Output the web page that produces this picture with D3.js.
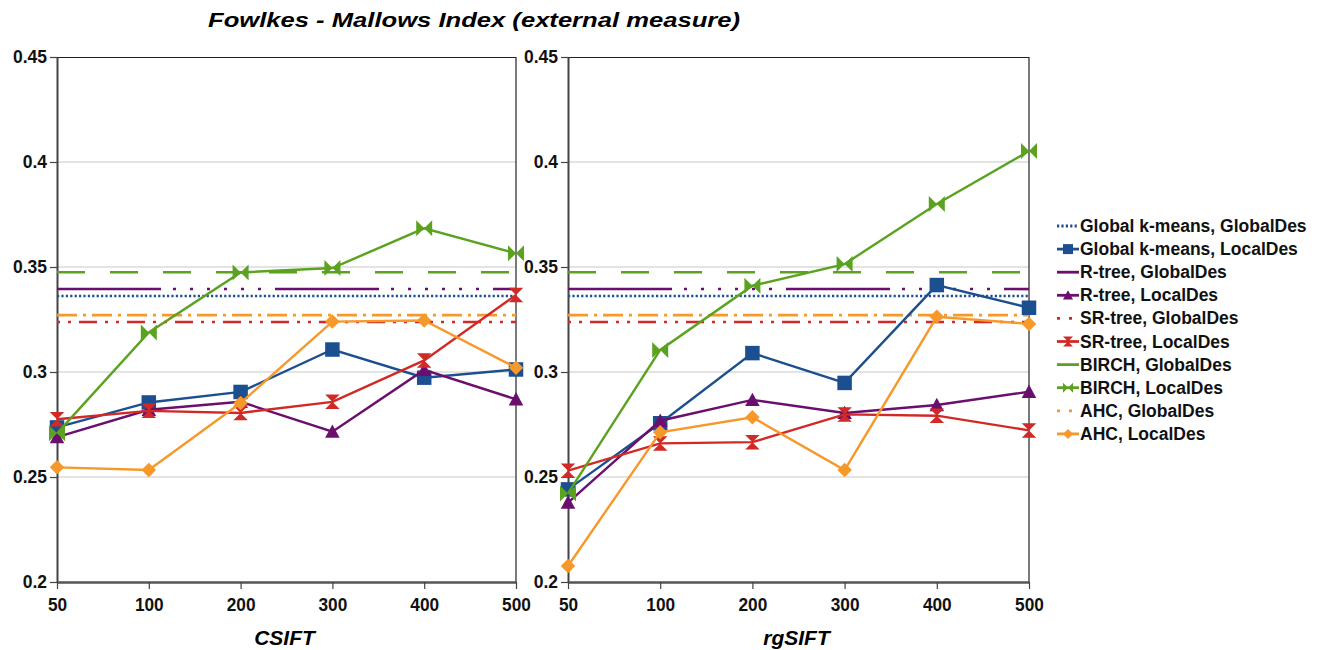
<!DOCTYPE html>
<html>
<head>
<meta charset="utf-8">
<script src="https://cdn.jsdelivr.net/npm/d3@7"></script>
<style>
  body { margin: 0; background: #fff; }
  svg { display: block; }
  .tick text { font-family: "Liberation Sans", Arial, sans-serif; font-weight: bold; }
</style>
</head>
<body>
<svg id="chart" width="1322" height="650"></svg>
<script>
// categories and values
const sizes = ['50', '100', '200', '300', '400', '500'];
const panels = ['CSIFT', 'rgSIFT'];
const yTicks = [0.2, 0.25, 0.3, 0.35, 0.4, 0.45];

// GlobalDes results are single values, drawn as horizontal reference lines
const globalKmeansGlobal = 0.3362;
const rtreeGlobal = 0.3395;
const srtreeGlobal = 0.3238;
const birchGlobal = 0.3475;
const ahcGlobal = 0.3271;

// LocalDes series, [CSIFT, rgSIFT]
const globalKmeansLocal = [
  [0.2736, 0.2855, 0.2905, 0.3107, 0.2973, 0.3012],
  [0.2441, 0.2756, 0.3090, 0.2948, 0.3414, 0.3306]
];
const rtreeLocal = [
  [0.2690, 0.2820, 0.2858, 0.2716, 0.3010, 0.2870],
  [0.2378, 0.2768, 0.2867, 0.2805, 0.2843, 0.2906]
];
const srtreeLocal = [
  [0.2775, 0.2815, 0.2805, 0.2858, 0.3055, 0.3367],
  [0.2530, 0.2660, 0.2666, 0.2798, 0.2792, 0.2722]
];
const birchLocal = [
  [0.2708, 0.3188, 0.3474, 0.3495, 0.3684, 0.3565],
  [0.2422, 0.3105, 0.3411, 0.3514, 0.3800, 0.4052]
];
const ahcLocal = [
  [0.2546, 0.2533, 0.2852, 0.3240, 0.3245, 0.3020],
  [0.2076, 0.2713, 0.2784, 0.2533, 0.3263, 0.3229]
];

const C = { blue: '#1c4f8f', purple: '#6b0f6f', red: '#d12a26', green: '#5aa21f', orange: '#f7982a' };

const refLines = [
  { name: 'BIRCH, GlobalDes', value: birchGlobal, color: C.green, dash: '28,25', legendDash: null },
  { name: 'R-tree, GlobalDes', value: rtreeGlobal, color: C.purple, dash: '104,12,3,14,3,14,3,14,3,14,3,14,3,14', legendDash: null },
  { name: 'Global k-means, GlobalDes', value: globalKmeansGlobal, color: C.blue, dash: '2.2,2.2', legendDash: '2.2,2.2' },
  { name: 'AHC, GlobalDes', value: ahcGlobal, color: C.orange, dash: '20,6,3,6', legendDash: '3,9' },
  { name: 'SR-tree, GlobalDes', value: srtreeGlobal, color: C.red, dash: '3,8,3,8,18,8', legendDash: '3,9' }
];

const localSeries = [
  { name: 'Global k-means, LocalDes', values: globalKmeansLocal, color: C.blue, marker: 'square' },
  { name: 'R-tree, LocalDes', values: rtreeLocal, color: C.purple, marker: 'triangle' },
  { name: 'SR-tree, LocalDes', values: srtreeLocal, color: C.red, marker: 'hourglass' },
  { name: 'BIRCH, LocalDes', values: birchLocal, color: C.green, marker: 'bowtie' },
  { name: 'AHC, LocalDes', values: ahcLocal, color: C.orange, marker: 'diamond' }
];

const legendOrder = [
  'Global k-means, GlobalDes', 'Global k-means, LocalDes', 'R-tree, GlobalDes', 'R-tree, LocalDes',
  'SR-tree, GlobalDes', 'SR-tree, LocalDes', 'BIRCH, GlobalDes', 'BIRCH, LocalDes',
  'AHC, GlobalDes', 'AHC, LocalDes'
];

function markerPath(type, s) {
  const h = s / 2;
  switch (type) {
    case 'square': return `M${-h},${-h}H${h}V${h}H${-h}Z`;
    case 'triangle': return `M0,${-h}L${h},${h * 0.85}L${-h},${h * 0.85}Z`;
    case 'diamond': return `M0,${-h}L${h},0L0,${h}L${-h},0Z`;
    case 'hourglass': return `M${-h},${-h}H${h}L0,0ZM${-h},${h}H${h}L0,0Z`;
    case 'bowtie': return `M${-h},${-h}V${h}L0,0ZM${h},${-h}V${h}L0,0Z`;
  }
}

const svg = d3.select('#chart');
const font = '"Liberation Sans", Arial, sans-serif';

const y = d3.scaleLinear().domain([0.2, 0.45]).range([582, 57]);
const panelX = [[57, 516], [568, 1029]];

svg.append('text')
  .attr('x', 474).attr('y', 27)
  .attr('text-anchor', 'middle')
  .attr('font-family', font).attr('font-weight', 'bold').attr('font-style', 'italic')
  .attr('font-size', 21)
  .attr('textLength', 532).attr('lengthAdjust', 'spacingAndGlyphs')
  .text('Fowlkes - Mallows Index (external measure)');

panels.forEach((title, p) => {
  const [x0, x1] = panelX[p];
  const x = d3.scalePoint().domain(sizes).range([x0, x1]);
  const g = svg.append('g');

  // gridlines
  g.append('g').selectAll('line').data([0.25, 0.3, 0.35, 0.4]).join('line')
    .attr('x1', x0).attr('x2', x1)
    .attr('y1', d => y(d)).attr('y2', d => y(d))
    .attr('stroke', '#c8c8c8').attr('stroke-width', 1.2);

  // frame: top and right
  g.append('line').attr('x1', x0).attr('x2', x1).attr('y1', 57.5).attr('y2', 57.5)
    .attr('stroke', '#222').attr('stroke-width', 1.2);
  g.append('line').attr('x1', x1).attr('x2', x1).attr('y1', 57).attr('y2', 582)
    .attr('stroke', '#222').attr('stroke-width', 1.2);

  // y axis
  const ya = g.append('g').attr('transform', `translate(${x0},0)`)
    .call(d3.axisLeft(y).tickValues(yTicks).tickFormat(d => String(+d.toFixed(2))).tickSize(7).tickSizeOuter(0));
  ya.select('.domain').attr('stroke', '#444').attr('stroke-width', 2);
  ya.selectAll('.tick line').attr('stroke', '#444').attr('stroke-width', 1.2);
  ya.selectAll('.tick text').attr('font-size', 17.5).attr('fill', '#111').attr('x', -10);

  // x axis
  const xa = g.append('g').attr('transform', 'translate(0,582)')
    .call(d3.axisBottom(x).tickSize(7).tickSizeOuter(0));
  xa.select('.domain').attr('stroke', '#555').attr('stroke-width', 2.4);
  xa.selectAll('.tick line').attr('stroke', '#444').attr('stroke-width', 1.2);
  xa.selectAll('.tick text').attr('font-size', 18).attr('fill', '#111').attr('dy', '1.05em')
    .attr('textLength', d => d.length * 9.6).attr('lengthAdjust', 'spacingAndGlyphs');

  // axis title
  g.append('text')
    .attr('x', (x0 + x1) / 2 - 2).attr('y', 645).attr('text-anchor', 'middle')
    .attr('font-family', font).attr('font-weight', 'bold').attr('font-style', 'italic')
    .attr('font-size', 21)
    .text(title);

  // GlobalDes reference lines
  g.append('g').selectAll('line').data(refLines).join('line')
    .attr('x1', x0).attr('x2', x1)
    .attr('y1', d => y(d.value)).attr('y2', d => y(d.value))
    .attr('stroke', d => d.color).attr('stroke-width', 2.6)
    .attr('stroke-dasharray', d => d.dash);

  // LocalDes lines and markers
  const line = d3.line().x((d, i) => x(sizes[i])).y(d => y(d));
  localSeries.forEach(s => {
    const vals = s.values[p];
    g.append('path').datum(vals)
      .attr('d', line).attr('fill', 'none')
      .attr('stroke', s.color).attr('stroke-width', 2.4);
    g.append('g').selectAll('path').data(vals).join('path')
      .attr('transform', (d, i) => `translate(${x(sizes[i])},${y(d)})`)
      .attr('d', markerPath(s.marker, s.marker === 'bowtie' ? 16 : 14.5))
      .attr('fill', s.color);
  });
});

// legend
const byName = new Map();
refLines.forEach(r => byName.set(r.name, { type: 'ref', ...r }));
localSeries.forEach(s => byName.set(s.name, { type: 'local', ...s }));

const leg = svg.append('g').attr('transform', 'translate(1057,226)');
legendOrder.forEach((name, i) => {
  const it = byName.get(name);
  const row = leg.append('g').attr('transform', `translate(0,${i * 23.1})`);
  row.append('line').attr('x1', 0).attr('x2', 22).attr('y1', 0).attr('y2', 0)
    .attr('stroke', it.color).attr('stroke-width', 2.8)
    .attr('stroke-dasharray', it.type === 'ref' ? it.legendDash : null);
  if (it.type === 'local') {
    row.append('path').attr('transform', 'translate(11,0)')
      .attr('d', markerPath(it.marker, 10)).attr('fill', it.color);
  }
  row.append('text').attr('x', 23).attr('y', 6)
    .attr('font-family', font).attr('font-weight', 'bold').attr('font-size', 17.5)
    .attr('fill', '#111')
    .text(name);
});
</script>
</body>
</html>
